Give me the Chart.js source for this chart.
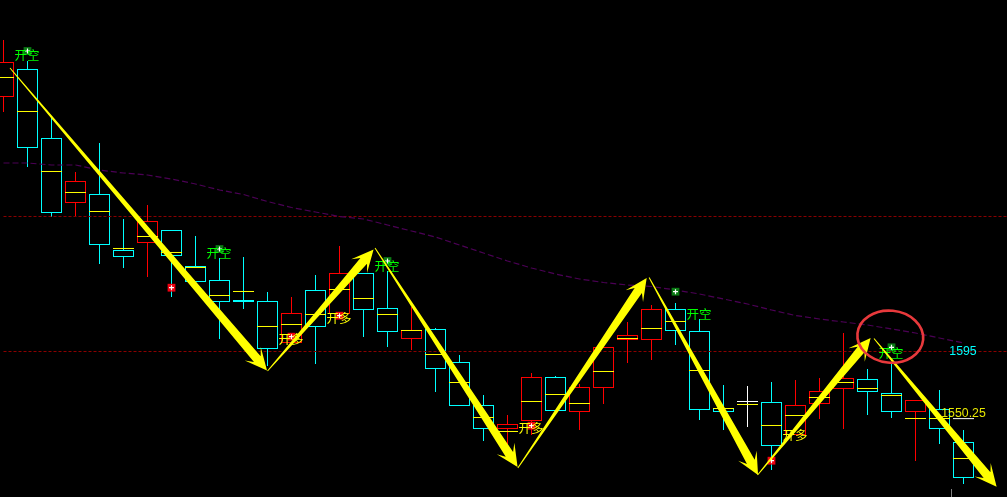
<!DOCTYPE html>
<html>
<head>
<meta charset="utf-8">
<style>html,body{margin:0;padding:0;background:#000;overflow:hidden}canvas{display:block}</style>
<script src="https://cdn.jsdelivr.net/npm/chart.js@4"></script>
</head>
<body>
<canvas id="c" width="1007" height="497"></canvas>
<script>
const opens  = [1764.67,1783.33,1737.33,1694.00,1700.00,1662.67,1667.33,1676.00,1652.00,1642.67,1629.33,1628.67,1600.67,1636.00,1620.00,1647.33,1624.00,1603.33,1610.00,1588.00,1559.33,1543.33,1548.67,1578.00,1554.67,1570.67,1602.67,1602.67,1623.33,1608.67,1557.33,1561.33,1561.33,1539.33,1560.00,1570.00,1576.67,1567.33,1554.67,1556.67,1534.67];
const closes = [1788.00,1730.67,1687.33,1708.67,1666.00,1658.00,1682.00,1658.67,1641.33,1628.00,1628.00,1596.67,1620.67,1611.33,1647.33,1622.67,1608.00,1609.33,1583.33,1558.67,1543.33,1546.67,1578.00,1555.33,1571.33,1598.00,1606.00,1623.33,1608.67,1556.00,1554.67,1562.00,1532.00,1559.33,1568.67,1577.33,1568.00,1554.67,1562.67,1543.33,1510.67];
const highs  = [1802.67,1788.67,1751.33,1714.67,1734.00,1683.33,1692.67,1676.00,1672.00,1657.33,1658.00,1634.67,1631.33,1646.00,1665.33,1647.33,1648.67,1624.67,1610.67,1592.67,1566.00,1552.67,1580.67,1578.67,1573.33,1598.00,1614.67,1626.00,1627.33,1616.67,1572.67,1572.00,1574.67,1576.00,1577.33,1607.33,1583.33,1587.33,1562.67,1569.33,1542.67];
const lows   = [1754.67,1718.00,1684.67,1685.33,1653.33,1650.67,1644.67,1631.33,1641.33,1603.33,1623.33,1585.33,1600.67,1586.67,1620.00,1604.67,1598.00,1596.00,1568.00,1558.67,1535.33,1529.33,1539.33,1555.33,1542.67,1560.00,1587.33,1589.33,1599.33,1549.33,1542.67,1544.67,1516.00,1539.33,1550.00,1543.33,1552.67,1550.67,1522.00,1533.33,1506.67];
const mids   = [1777.67,1755.00,1715.00,1701.00,1688.33,1663.67,1671.67,1661.00,1651.00,1632.33,1635.00,1611.67,1613.00,1619.67,1636.33,1630.33,1619.67,1609.00,1593.00,1574.33,1551.00,1541.67,1561.67,1566.33,1560.33,1581.67,1603.67,1610.33,1615.00,1582.33,1557.00,1559.67,1545.67,1552.33,1564.33,1574.33,1570.33,1565.67,1550.33,1550.33,1523.67];
const maLine = [1720.67,1720.67,1719.33,1719.33,1716.00,1714.00,1712.67,1710.00,1706.67,1702.67,1699.67,1695.00,1691.00,1688.00,1685.00,1683.33,1679.33,1675.33,1671.33,1666.00,1660.67,1655.33,1650.67,1646.67,1643.33,1641.00,1639.33,1638.33,1636.00,1633.33,1630.00,1626.67,1622.67,1619.00,1616.67,1614.67,1612.67,1610.00,1607.33,1604.00,1600.67];
const levels = [1685, 1595];
const lastPrice = 1550.25;
const sellIdx = [1,9,16,28,37];
const sellMark = [1795.33,1663.33,1655.33,1634.87,1597.80];
const buyIdx = [7,12,14,22,32];
const buyMark = [1637.53,1604.87,1618.87,1545.53,1522.20];
const labelTexts = ["开空","开空","开多","开多","开空","开多","开空","开多","开空"];
const labelIdx = [1,9,12,14,16,22,29,33,37];
const labelPrice = [1792.33,1660.33,1603.33,1617.33,1652.00,1544.00,1619.67,1539.00,1594.00];
const arrowFromIdx = [0.27,11.0,15.48,21.43,26.9,31.42,36.27];
const arrowFromPrice = [1784,1582,1664,1517.33,1644.33,1512.67,1603.67];
const arrowToIdx = [10.98,15.42,21.42,26.8,31.44,36.13,41.38];
const arrowToPrice = [1582.33,1663,1518,1644,1512.67,1604,1504.87];
const circleIdx = 36.95, circlePrice = 1604.87;
const stub = [39.5, 1498, 1503.33];

const RED='#ff0000', CYAN='#00ffff', WHITE='#ffffff', YEL='#ffff00';
const candleColor = opens.map((o,i)=>Math.abs(closes[i]-o)<1 ? WHITE : (closes[i]>o ? RED : CYAN));
const idx = opens.map((_,i)=>i);
const XMIN=-3.5/24, XMAX=(1007-3.5)/24;

function polygonArrow(ctx,x0,y0,x1,y1){
  const dx=x1-x0, dy=y1-y0, L=Math.hypot(dx,dy), ux=dx/L, uy=dy/L, nx=-uy, ny=ux;
  const P=(a,w)=>[x0+ux*a+nx*w, y0+uy*a+ny*w];
  const pts=[P(0,0.5),P(L-15,4.4),P(L-22,10.5),P(L,0),P(L-22,-10.5),P(L-15,-4.4),P(0,-0.5)];
  ctx.beginPath();
  pts.forEach((p,i)=> i?ctx.lineTo(p[0],p[1]):ctx.moveTo(p[0],p[1]));
  ctx.closePath();
  ctx.fillStyle=YEL; ctx.fill();
}

const overlay = {
  id:'overlay',
  afterDatasetsDraw(chart){
    const {ctx,scales:{x,y}}=chart;
    ctx.save();
    ctx.textAlign='center'; ctx.textBaseline='middle';
    ctx.font='12.5px "Noto Sans CJK SC"';
    labelTexts.forEach((t,i)=>{
      ctx.fillStyle = t==="开空" ? '#00ff00' : YEL;
      ctx.fillText(t,x.getPixelForValue(labelIdx[i])-0.5,y.getPixelForValue(labelPrice[i]));
    });
    arrowFromIdx.forEach((_,i)=>polygonArrow(ctx,
      x.getPixelForValue(arrowFromIdx[i]),y.getPixelForValue(arrowFromPrice[i]),
      x.getPixelForValue(arrowToIdx[i]),y.getPixelForValue(arrowToPrice[i])));
    ctx.font='12.3px "Liberation Sans"';
    ctx.fillStyle=CYAN;
    ctx.fillText(String(levels[1]),x.getPixelForValue(40)-0.5,y.getPixelForValue(levels[1])+0.5);
    ctx.fillStyle='rgba(255,255,0,0.9)';
    ctx.fillText(lastPrice.toFixed(2),x.getPixelForValue(40),y.getPixelForValue(lastPrice)-5.5);
    ctx.beginPath();
    ctx.ellipse(x.getPixelForValue(circleIdx),y.getPixelForValue(circlePrice),33,26,0.1,0,Math.PI*2);
    ctx.strokeStyle='#e8393c'; ctx.lineWidth=2.6; ctx.stroke();
    ctx.restore();
  }
};

new Chart(document.getElementById('c'),{
  data:{datasets:[
    {type:'bar',order:6,grouped:false,barThickness:1,data:idx.map(i=>({x:i,y:[lows[i],highs[i]]})),backgroundColor:candleColor,borderWidth:0,inflateAmount:0},
    {type:'bar',order:6,grouped:false,barThickness:1,data:[{x:stub[0],y:[stub[1],stub[2]]}],backgroundColor:'#808080',borderWidth:0,inflateAmount:0},
    {type:'bar',order:5,grouped:false,barThickness:21,data:idx.map(i=>({x:i,y:[opens[i],closes[i]]})),backgroundColor:'#000000',borderColor:candleColor,borderWidth:1,borderSkipped:false,inflateAmount:0},
    {type:'line',order:4,data:[{x:0,y:levels[0]},{x:XMAX,y:levels[0]}],borderColor:'#8b0000',borderWidth:1,borderDash:[3,2],pointRadius:0},
    {type:'line',order:4,data:[{x:0,y:levels[1]},{x:XMAX,y:levels[1]}],borderColor:'#8b0000',borderWidth:1,borderDash:[3,2],pointRadius:0},
    {type:'line',order:3,data:idx.map(i=>({x:i,y:mids[i]})),showLine:false,pointStyle:'line',pointRadius:10.5,pointBorderColor:YEL,pointBorderWidth:1},
    {type:'line',order:3,data:[{x:40,y:lastPrice}],showLine:false,pointStyle:'line',pointRadius:10.5,pointBorderColor:WHITE,pointBorderWidth:1},
    {type:'line',order:2,data:idx.map(i=>({x:i,y:maLine[i]})),borderColor:'#4b0055',borderWidth:1.2,borderDash:[6,3],pointRadius:0,tension:0},
    {type:'line',order:1,data:buyIdx.map((v,i)=>({x:v,y:buyMark[i]})),showLine:false,pointStyle:'rect',pointRadius:5.5,pointBackgroundColor:'#f00010',pointBorderWidth:0},
    {type:'line',order:1,data:sellIdx.map((v,i)=>({x:v,y:sellMark[i]})),showLine:false,pointStyle:'rect',pointRadius:5.5,pointBackgroundColor:'#0a7a14',pointBorderWidth:0},
    {type:'line',order:0,data:[...buyIdx.map((v,i)=>({x:v,y:buyMark[i]})),...sellIdx.map((v,i)=>({x:v,y:sellMark[i]}))],showLine:false,pointStyle:'cross',pointRadius:2.5,pointBorderColor:'#ffffff',pointBorderWidth:1.2}
  ]},
  options:{
    responsive:false,animation:false,
    layout:{padding:0,autoPadding:false},
    plugins:{legend:{display:false},tooltip:{enabled:false}},
    scales:{
      x:{type:'linear',display:false,offset:false,min:XMIN,max:XMAX},
      y:{type:'linear',display:false,min:1498,max:1829.3333}
    }
  },
  plugins:[overlay]
});
</script>
</body>
</html>
